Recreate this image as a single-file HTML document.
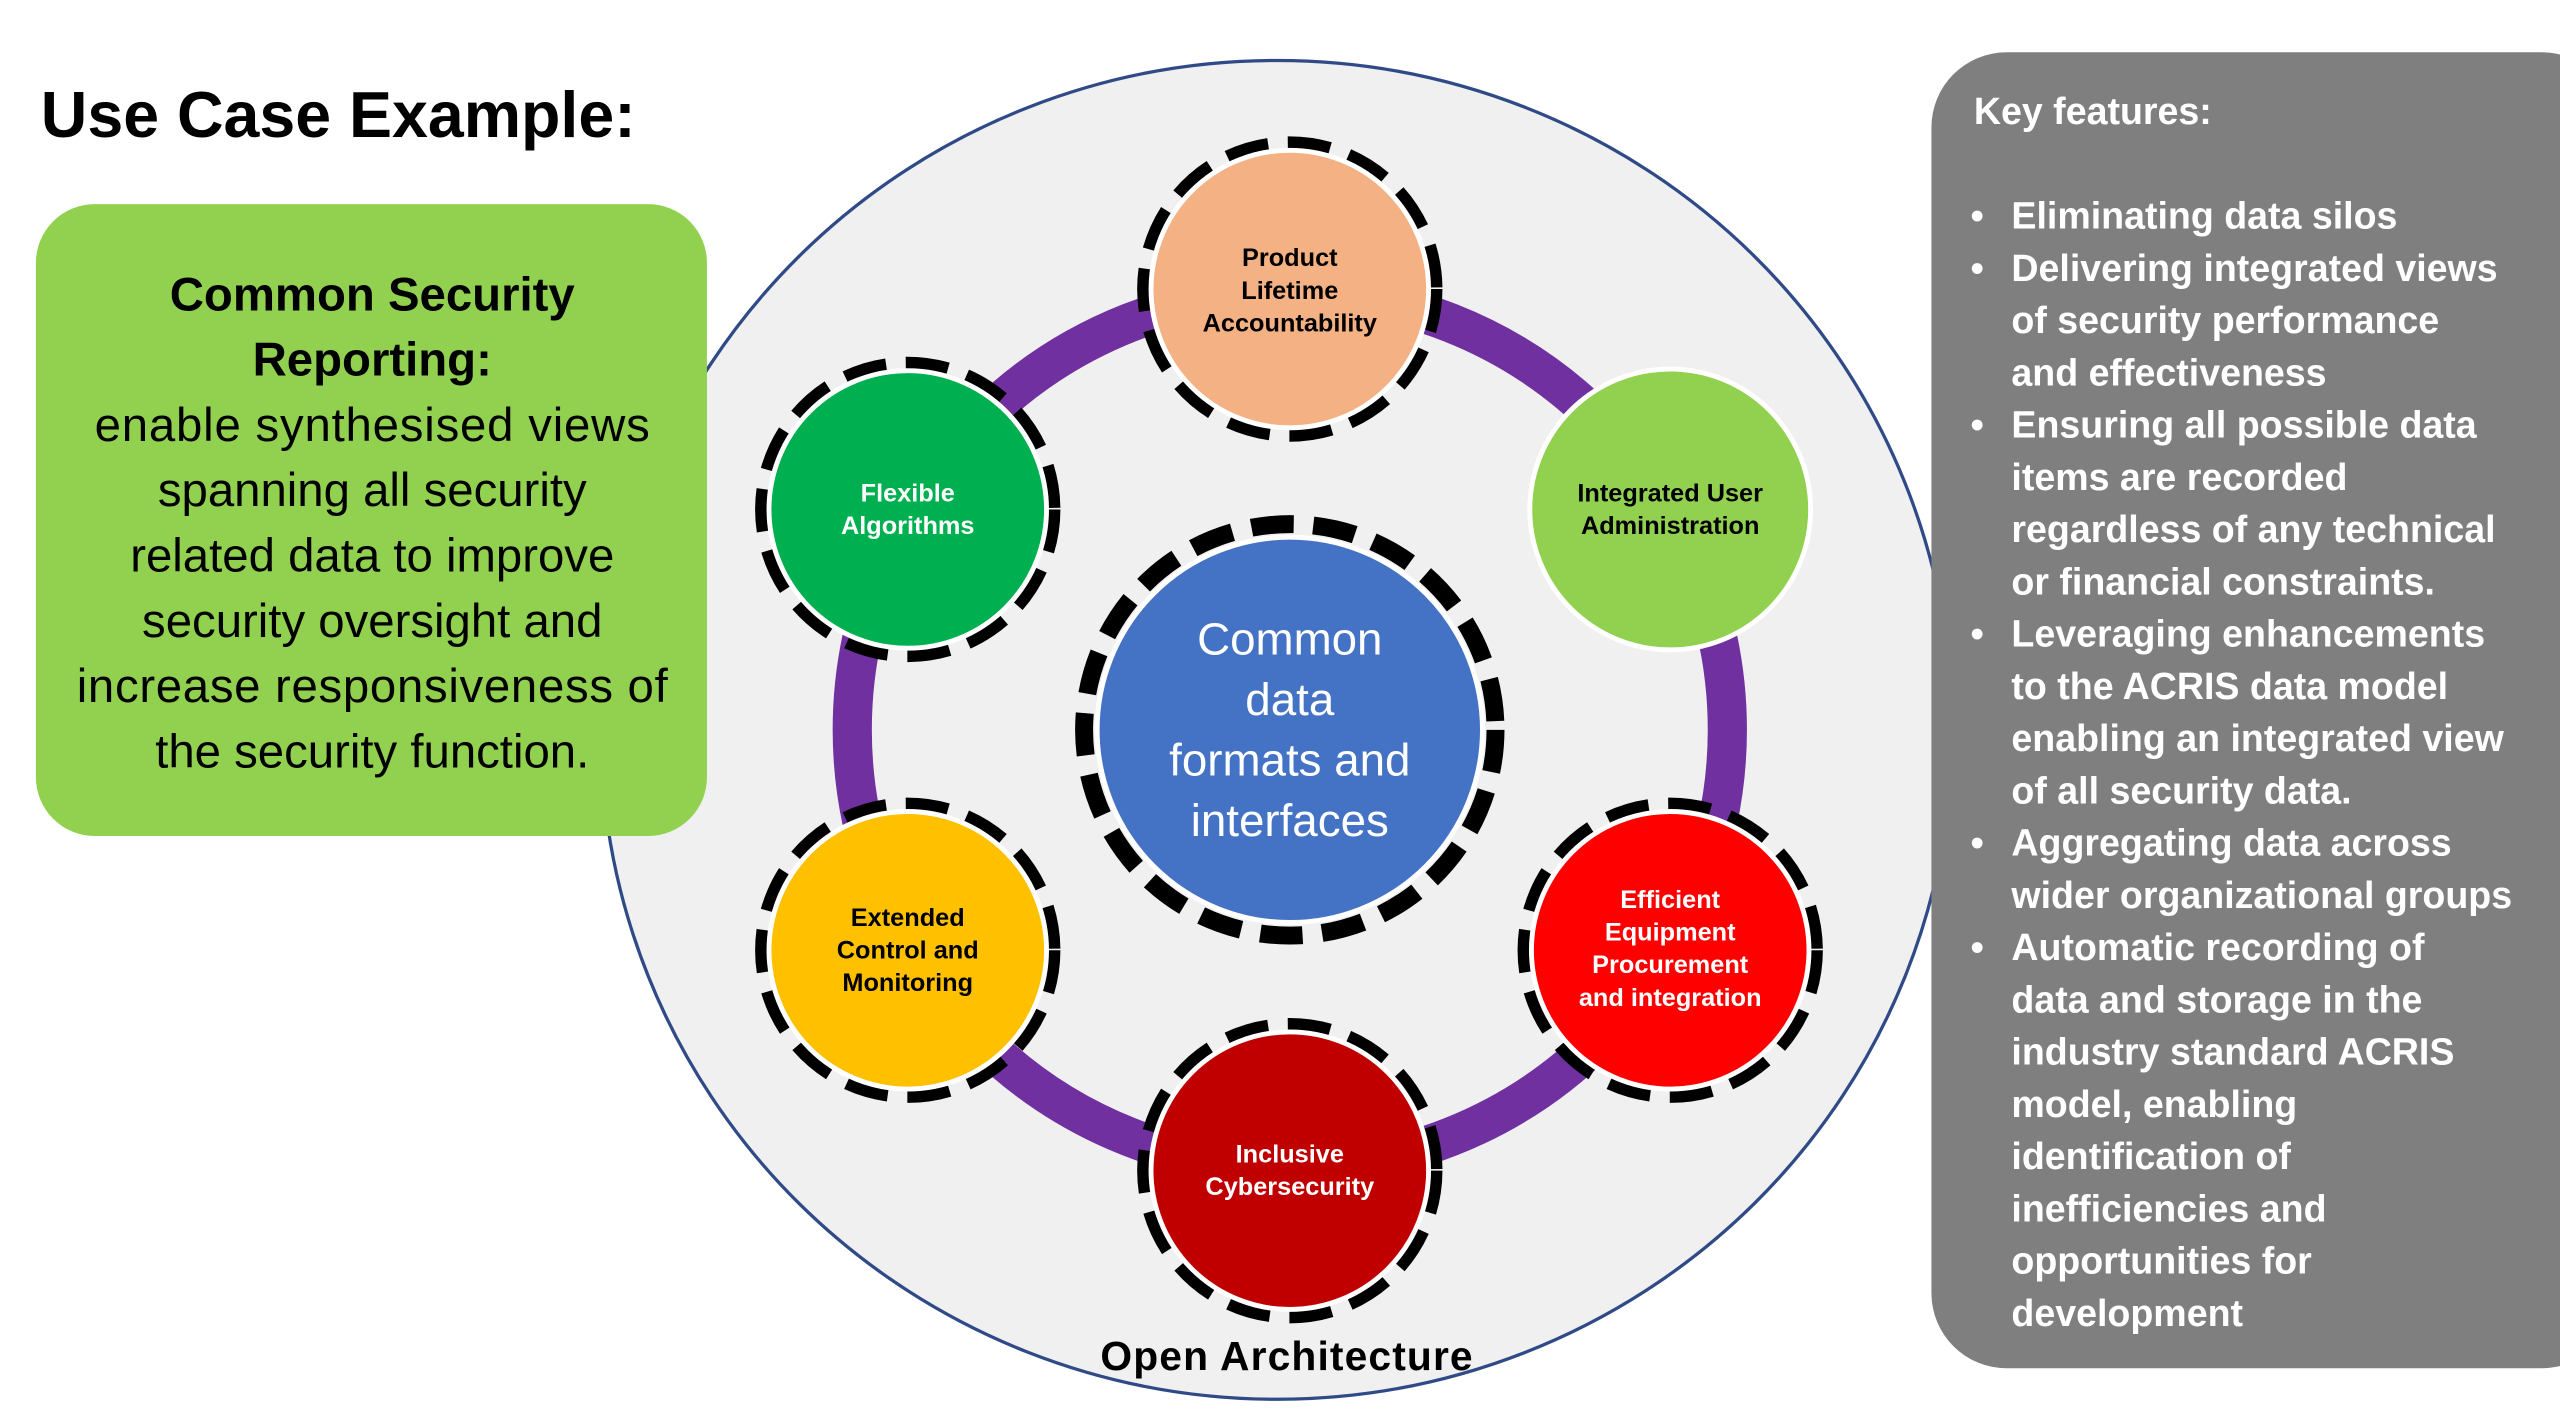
<!DOCTYPE html>
<html><head><meta charset="utf-8"><style>
html,body{margin:0;padding:0;background:#fff;}
svg{display:block;}
text{font-family:"Liberation Sans",Arial,sans-serif;}
.c{font-family:"Liberation Sans",sans-serif;}
</style></head><body>
<svg width="2560" height="1414" viewBox="0 0 1568 866" xmlns="http://www.w3.org/2000/svg">
<rect width="1568" height="866" fill="#fff"/>
<ellipse cx="782" cy="447" rx="414" ry="410" fill="#f0f0f0" stroke="#2f4a86" stroke-width="2"/>
<text x="25" y="84" font-size="39.5" font-weight="bold" fill="#000">Use Case Example:</text>
<rect x="22" y="125" width="411" height="387" rx="36" fill="#92d050"/>
<g class="c" font-size="29" fill="#000" text-anchor="middle">
<text x="228" y="190" font-weight="bold">Common Security</text>
<text x="228" y="230" font-weight="bold">Reporting:</text>
<text x="228" y="270" textLength="340">enable synthesised views</text>
<text x="228" y="310">spanning all security</text>
<text x="228" y="350">related data to improve</text>
<text x="228" y="390">security oversight and</text>
<text x="228" y="430" textLength="362">increase responsiveness of</text>
<text x="228" y="470">the security function.</text>
</g>
<rect x="1183" y="32" width="420" height="806" rx="46" fill="#7f7f7f"/>
<g class="c" font-size="23" font-weight="bold" fill="#fff">
<text x="1209" y="76">Key features:</text>
<text x="1207" y="140">•</text><text x="1232" y="140">Eliminating data silos</text>
<text x="1207" y="172">•</text><text x="1232" y="172">Delivering integrated views</text>
<text x="1232" y="204">of security performance</text>
<text x="1232" y="236">and effectiveness</text>
<text x="1207" y="268">•</text><text x="1232" y="268">Ensuring all possible data</text>
<text x="1232" y="300">items are recorded</text>
<text x="1232" y="332">regardless of any technical</text>
<text x="1232" y="364">or financial constraints.</text>
<text x="1207" y="396">•</text><text x="1232" y="396">Leveraging enhancements</text>
<text x="1232" y="428">to the ACRIS data model</text>
<text x="1232" y="460">enabling an integrated view</text>
<text x="1232" y="492">of all security data.</text>
<text x="1207" y="524">•</text><text x="1232" y="524">Aggregating data across</text>
<text x="1232" y="556">wider organizational groups</text>
<text x="1207" y="588">•</text><text x="1232" y="588">Automatic recording of</text>
<text x="1232" y="620">data and storage in the</text>
<text x="1232" y="652">industry standard ACRIS</text>
<text x="1232" y="684">model, enabling</text>
<text x="1232" y="716">identification of</text>
<text x="1232" y="748">inefficiencies and</text>
<text x="1232" y="780">opportunities for</text>
<text x="1232" y="812">development</text>
</g>
<circle cx="790" cy="447" r="268" fill="none" stroke="#7030a0" stroke-width="24"/>
<g stroke="#000" stroke-width="9" stroke-dasharray="26 12">
<circle cx="790" cy="447" r="126" fill="none" stroke-width="11"/>
<circle cx="790" cy="177" r="89" fill="none"/>
<circle cx="556" cy="312" r="89" fill="none"/>
<circle cx="1023" cy="582" r="89" fill="none"/>
<circle cx="790" cy="717" r="89" fill="none"/>
<circle cx="556" cy="582" r="89" fill="none"/>
</g>
<g stroke="#fff" stroke-width="3">
<circle cx="790" cy="447" r="118" fill="#4472c4"/>
<circle cx="790" cy="177" r="85" fill="#f4b183"/>
<circle cx="556" cy="312" r="85" fill="#00b050"/>
<circle cx="1023" cy="312" r="86" fill="#92d050"/>
<circle cx="1023" cy="582" r="85" fill="#ff0000"/>
<circle cx="790" cy="717" r="85" fill="#c00000"/>
<circle cx="556" cy="582" r="85" fill="#ffc000"/>
</g>
<g class="c" font-size="28" fill="#fff" text-anchor="middle">
<text x="790" y="401">Common</text><text x="790" y="438">data</text><text x="790" y="475">formats and</text><text x="790" y="512">interfaces</text>
</g>
<g class="c" font-size="15.5" font-weight="bold" text-anchor="middle">
<text x="790" y="163" fill="#000">Product</text><text x="790" y="183" fill="#000">Lifetime</text><text x="790" y="203" fill="#000">Accountability</text>
<text x="556" y="307" fill="#fff">Flexible</text><text x="556" y="327" fill="#fff">Algorithms</text>
<text x="1023" y="307" fill="#000">Integrated User</text><text x="1023" y="327" fill="#000">Administration</text>
<text x="1023" y="556" fill="#fff">Efficient</text><text x="1023" y="576" fill="#fff">Equipment</text><text x="1023" y="596" fill="#fff">Procurement</text><text x="1023" y="616" fill="#fff">and integration</text>
<text x="790" y="712" fill="#fff">Inclusive</text><text x="790" y="732" fill="#fff">Cybersecurity</text>
<text x="556" y="567" fill="#000">Extended</text><text x="556" y="587" fill="#000">Control and</text><text x="556" y="607" fill="#000">Monitoring</text>
</g>
<text class="c" x="788" y="839" font-size="25" font-weight="bold" text-anchor="middle" fill="#000" textLength="228">Open Architecture</text>
</svg>
</body></html>
